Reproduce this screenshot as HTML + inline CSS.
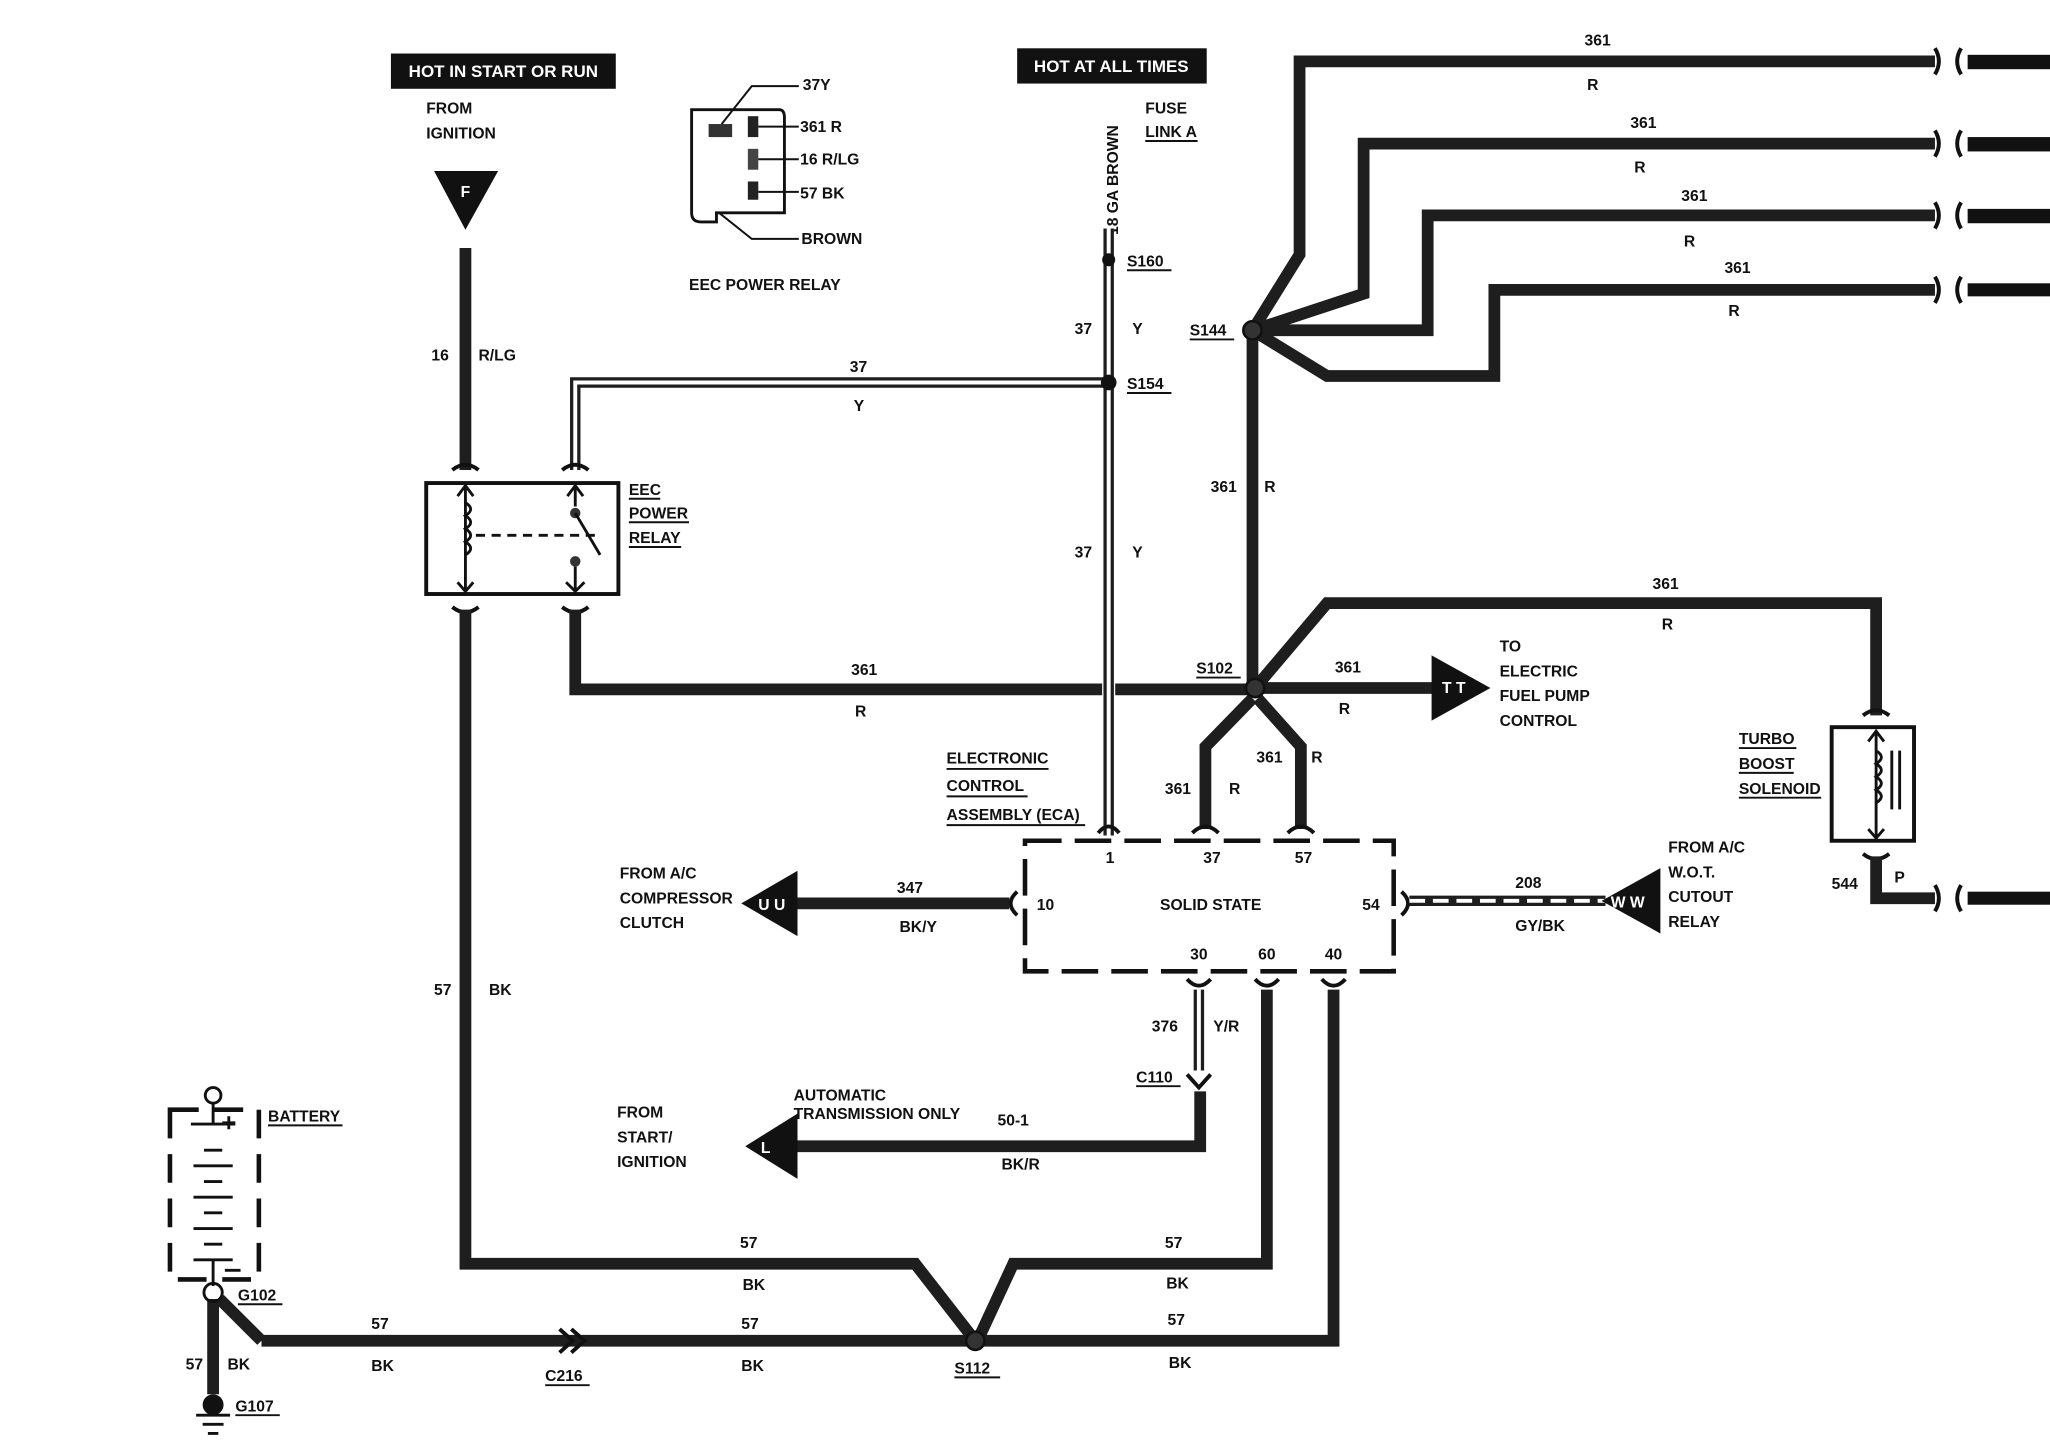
<!DOCTYPE html>
<html><head><meta charset="utf-8"><style>
html,body{margin:0;padding:0;background:#fff;}
svg{display:block;}
text{font-family:"Liberation Sans",sans-serif;font-weight:bold;font-size:12px;fill:#111;}
.w{fill:none;stroke:#1e1e1e;stroke-width:9;stroke-linejoin:miter;}
.wi{fill:none;stroke:#6a6a6a;stroke-width:3;stroke-dasharray:2 3;}
.d{fill:none;stroke:#1e1e1e;stroke-width:8;}
.di{fill:none;stroke:#fff;stroke-width:3;}
.t{fill:none;stroke:#111;stroke-width:2.2;}
.c{fill:none;stroke:#111;stroke-width:3;}
.u{stroke:#111;stroke-width:1.5;}
</style></head><body>
<svg width="2050" height="1440" viewBox="0 0 1568 1103" preserveAspectRatio="none" xmlns="http://www.w3.org/2000/svg">
<rect width="1568" height="1103" fill="#fff"/>
<!-- top labels -->
<rect x="299" y="41" width="172" height="27" fill="#111"/>
<text x="385" y="59" text-anchor="middle" style="fill:#fff;font-size:13px">HOT IN START OR RUN</text>
<rect x="778" y="37" width="145" height="27" fill="#111"/>
<text x="850" y="55" text-anchor="middle" style="fill:#fff;font-size:13px">HOT AT ALL TIMES</text>
<text x="326" y="87">FROM</text><text x="326" y="106">IGNITION</text>
<polygon points="332,131 381,131 356,176" fill="#111"/>
<text x="356" y="151" text-anchor="middle" style="fill:#fff">F</text>
<text x="876" y="87">FUSE</text><text x="876" y="105">LINK A</text>
<line x1="876" y1="108" x2="916" y2="108" class="u"/>
<text transform="translate(855,180) rotate(-90)">18 GA  BROWN</text>

<!-- relay connector icon -->
<path d="M529,84 H596 Q600,84 600,90 V163 H548 V170 H536 Q529,170 529,163 Z" class="t"/>
<rect x="542" y="95" width="18" height="10" fill="#333"/>
<rect x="572" y="89" width="8" height="16" fill="#222"/>
<rect x="572" y="114" width="8" height="16" fill="#444"/>
<rect x="572" y="139" width="8" height="14" fill="#222"/>
<path d="M552,95 L575,66 H611" class="t" style="stroke-width:1.5"/>
<line x1="580" y1="97" x2="611" y2="97" class="u"/>
<line x1="580" y1="122" x2="611" y2="122" class="u"/>
<line x1="580" y1="147" x2="611" y2="147" class="u"/>
<path d="M550,163 L575,183 H611" class="t" style="stroke-width:1.5"/>
<text x="614" y="69">37Y</text><text x="612" y="101">361 R</text><text x="612" y="126">16 R/LG</text><text x="612" y="152">57 BK</text><text x="613" y="187">BROWN</text>
<text x="527" y="222">EEC POWER RELAY</text>

<!-- double wires 37 Y -->
<path d="M848,175 V640 M440,360 V293 H848" class="d"/>
<path d="M848,175 V640 M440,360 V293 H848" class="di"/>
<circle cx="848" cy="199" r="5" fill="#111"/><circle cx="848" cy="293" r="6" fill="#111"/>
<text x="862" y="204">S160</text><line x1="862" y1="207" x2="896" y2="207" class="u"/>
<text x="862" y="298">S154</text><line x1="862" y1="301" x2="896" y2="301" class="u"/>
<text x="822" y="256">37</text><text x="866" y="256">Y</text>
<text x="822" y="427">37</text><text x="866" y="427">Y</text>
<text x="650" y="285">37</text><text x="653" y="315">Y</text>

<!-- 16 R/LG -->
<path d="M356,190 V360" class="w"/>
<text x="330" y="276">16</text><text x="366" y="276">R/LG</text>

<!-- EEC power relay -->
<rect x="326" y="370" width="147" height="85" class="c"/>
<path d="M346,360 Q356,352 366,360 M430,360 Q440,352 450,360" class="c"/>
<path d="M346,465 Q356,473 366,465 M430,465 Q440,473 450,465" class="c"/>
<path d="M356,372 V453 M350,380 L356,372 L362,380 M350,446 L356,453 L362,446" class="t"/>
<path d="M356,385 q8,5 0,10 q8,5 0,10 q8,5 0,10 q8,5 0,10" class="t"/>
<line x1="364" y1="410" x2="455" y2="410" class="t" stroke-dasharray="7 5"/>
<path d="M440,372 V388 M434,380 L440,372 L446,380" class="t"/>
<circle cx="440" cy="393" r="4" fill="#333"/>
<line x1="440" y1="393" x2="459" y2="425" class="t"/>
<circle cx="440" cy="430" r="4" fill="#333"/>
<path d="M440,434 V453 M433,446 L440,453 L447,446" class="t"/>
<text x="481" y="379">EEC</text><text x="481" y="397">POWER</text><text x="481" y="416">RELAY</text>
<line x1="481" y1="382" x2="505" y2="382" class="u"/><line x1="481" y1="400" x2="527" y2="400" class="u"/><line x1="481" y1="419" x2="521" y2="419" class="u"/>

<!-- 361 from relay to S102 -->
<path d="M440,467 V528 H843 M853,528 H958" class="w"/>
<text x="651" y="517">361</text><text x="654" y="549">R</text>

<!-- S144 fan -->
<path d="M958,253 V525" class="w"/>
<path d="M958,253 L994,195 V47 H1480" class="w"/>
<path d="M958,253 L1043,225 V110 H1480" class="w"/>
<path d="M958,253 H1092 V165 H1480" class="w"/>
<path d="M958,253 L1015,288 H1143 V222 H1480" class="w"/>
<circle cx="958" cy="253" r="7" fill="#333" stroke="#111" stroke-width="2"/>
<text x="910" y="257">S144</text><line x1="910" y1="260" x2="944" y2="260" class="u"/>
<text x="1212" y="35">361</text><text x="1214" y="69">R</text>
<text x="1247" y="98">361</text><text x="1250" y="132">R</text>
<text x="1286" y="154">361</text><text x="1288" y="189">R</text>
<text x="1319" y="209">361</text><text x="1322" y="242">R</text>
<text x="926" y="377">361</text><text x="967" y="377">R</text>
<g class="c">
<path d="M1480,37 q6,10 0,20 M1500,37 q-6,10 0,20"/>
<path d="M1480,100 q6,10 0,20 M1500,100 q-6,10 0,20"/>
<path d="M1480,155 q6,10 0,20 M1500,155 q-6,10 0,20"/>
<path d="M1480,212 q6,10 0,20 M1500,212 q-6,10 0,20"/>
<path d="M1480,678 q6,10 0,20 M1500,678 q-6,10 0,20"/>
</g>
<g fill="#111"><rect x="1505" y="42" width="63" height="11"/><rect x="1505" y="105" width="63" height="11"/><rect x="1505" y="160" width="63" height="11"/><rect x="1505" y="217" width="63" height="10"/><rect x="1505" y="683" width="63" height="10"/></g>

<!-- S102 -->
<path d="M960,527 H1100" class="w"/>
<polygon points="1095,502 1140,527 1095,552" fill="#111"/>
<text x="1103" y="531" style="fill:#fff">T T</text>
<text x="1021" y="515">361</text><text x="1024" y="547">R</text>
<text x="1147" y="499">TO</text><text x="1147" y="518">ELECTRIC</text><text x="1147" y="537">FUEL PUMP</text><text x="1147" y="556">CONTROL</text>
<path d="M960,527 L1015,462 H1435 V548" class="w"/>
<text x="1264" y="451">361</text><text x="1271" y="482">R</text>
<path d="M958,535 L922,572 V635 M962,535 L995,572 V635" class="w"/>
<circle cx="960" cy="527" r="7" fill="#333" stroke="#111" stroke-width="2"/>
<text x="915" y="516">S102</text><line x1="915" y1="519" x2="949" y2="519" class="u"/>
<text x="891" y="608">361</text><text x="940" y="608">R</text>
<text x="961" y="584">361</text><text x="1003" y="584">R</text>

<!-- turbo boost -->
<rect x="1401" y="557" width="63" height="87" class="c"/>
<path d="M1425,548 Q1435,540 1445,548 M1425,654 Q1435,662 1445,654" class="c"/>
<path d="M1435,560 V642 M1429,568 L1435,560 L1441,568 M1429,635 L1435,642 L1441,635" class="t"/>
<path d="M1435,575 q8,5 0,10 q8,5 0,10 q8,5 0,10 q8,5 0,10" class="t"/>
<path d="M1447,575 V620 M1453,575 V620" class="t"/>
<text x="1330" y="570">TURBO</text><text x="1330" y="589">BOOST</text><text x="1330" y="608">SOLENOID</text>
<line x1="1330" y1="573" x2="1374" y2="573" class="u"/><line x1="1330" y1="592" x2="1372" y2="592" class="u"/><line x1="1330" y1="611" x2="1393" y2="611" class="u"/>
<path d="M1435,656 V688 H1480" class="w"/>
<text x="1401" y="681">544</text><text x="1449" y="676">P</text>

<!-- ECA -->
<rect x="784" y="644" width="282" height="100" fill="none" stroke="#111" stroke-width="3.5" stroke-dasharray="28 10"/>
<text x="724" y="585">ELECTRONIC</text><text x="724" y="606">CONTROL</text><text x="724" y="628">ASSEMBLY (ECA)</text>
<line x1="724" y1="589" x2="802" y2="589" class="u"/><line x1="724" y1="610" x2="786" y2="610" class="u"/><line x1="724" y1="632" x2="830" y2="632" class="u"/>
<path d="M840,638 Q848,628 856,638 M912,638 Q922,628 932,638 M985,638 Q995,628 1005,638" class="c"/>
<text x="849" y="661" text-anchor="middle">1</text><text x="927" y="661" text-anchor="middle">37</text><text x="997" y="661" text-anchor="middle">57</text>
<text x="926" y="697" text-anchor="middle">SOLID STATE</text>
<text x="793" y="697">10</text><text x="1042" y="697">54</text>
<text x="917" y="735" text-anchor="middle">30</text><text x="969" y="735" text-anchor="middle">60</text><text x="1020" y="735" text-anchor="middle">40</text>
<path d="M778,683 Q768,692 778,701 M1072,683 Q1082,692 1072,701" class="c"/>
<path d="M908,750 Q917,760 926,750 M960,750 Q969,760 978,750 M1011,750 Q1020,760 1029,750" class="c"/>

<!-- 347 -->
<path d="M608,692 H772" class="w"/>
<polygon points="567,692 610,667 610,717" fill="#111"/>
<text x="580" y="697" style="fill:#fff">U U</text>
<text x="686" y="684">347</text><text x="688" y="714">BK/Y</text>
<text x="474" y="673">FROM A/C</text><text x="474" y="692">COMPRESSOR</text><text x="474" y="711">CLUTCH</text>
<!-- 208 -->
<path d="M1078,690 H1228" class="d"/><path d="M1078,690 H1228" class="di" stroke-dasharray="12 6"/>
<polygon points="1225,690 1270,665 1270,715" fill="#111"/>
<text x="1232" y="695" style="fill:#fff">W W</text>
<text x="1159" y="680">208</text><text x="1159" y="713">GY/BK</text>
<text x="1276" y="653">FROM A/C</text><text x="1276" y="672">W.O.T.</text><text x="1276" y="691">CUTOUT</text><text x="1276" y="710">RELAY</text>

<!-- 376 / 50-1 -->
<path d="M917,758 V820" class="d"/><path d="M917,758 V820" class="di"/>
<path d="M908,823 L917,833 L926,823" class="c"/>
<text x="881" y="790">376</text><text x="928" y="790">Y/R</text>
<text x="869" y="829">C110</text><line x1="869" y1="832" x2="903" y2="832" class="u"/>
<path d="M918,836 V878 H608" class="w"/>
<polygon points="570,878 610,853 610,903" fill="#111"/>
<text x="582" y="883" style="fill:#fff">L</text>
<text x="607" y="843">AUTOMATIC</text><text x="607" y="857">TRANSMISSION ONLY</text>
<text x="763" y="862">50-1</text><text x="766" y="896">BK/R</text>
<text x="472" y="856">FROM</text><text x="472" y="875">START/</text><text x="472" y="894">IGNITION</text>

<!-- grounds -->
<path d="M356,467 V968 H700 L742,1022" class="w"/>
<text x="332" y="762">57</text><text x="374" y="762">BK</text>
<path d="M969,758 V968 H775 L750,1022" class="w"/>
<path d="M1020,758 V1027 H752" class="w"/>
<path d="M200,1027 H742 M168,995 L200,1027 M163,995 V1068" class="w"/>
<path d="M428,1018 L438,1027 L428,1036 M437,1018 L447,1027 L437,1036" class="c" fill="none"/>
<circle cx="746" cy="1027" r="7" fill="#333" stroke="#111" stroke-width="2"/>
<text x="566" y="956">57</text><text x="568" y="988">BK</text>
<text x="891" y="956">57</text><text x="892" y="987">BK</text>
<text x="893" y="1015">57</text><text x="894" y="1048">BK</text>
<text x="567" y="1018">57</text><text x="567" y="1050">BK</text>
<text x="284" y="1018">57</text><text x="284" y="1050">BK</text>
<text x="142" y="1049">57</text><text x="174" y="1049">BK</text>
<text x="730" y="1052">S112</text><line x1="730" y1="1055" x2="765" y2="1055" class="u"/>
<text x="417" y="1058">C216</text><line x1="417" y1="1061" x2="451" y2="1061" class="u"/>

<!-- battery -->
<rect x="130" y="850" width="68" height="130" fill="none" stroke="#111" stroke-width="3.5" stroke-dasharray="22 12"/>
<circle cx="163" cy="839" r="6" class="t" fill="#fff"/>
<path d="M163,845 V860 M146,861 H180 M170,860 h10 M175,855 v10" class="t"/>
<g class="t"><path d="M156,881 H170 M148,893 H178 M156,905 H170 M148,917 H178 M156,929 H170 M148,941 H178 M156,953 H170 M148,965 H178"/></g>
<path d="M163,965 V985 M172,973 H184" class="t"/>
<text x="205" y="859">BATTERY</text><line x1="205" y1="862" x2="262" y2="862" class="u"/>
<circle cx="163" cy="990" r="7" fill="#fff" class="t"/>
<text x="182" y="996">G102</text><line x1="182" y1="999" x2="216" y2="999" class="u"/>
<circle cx="163" cy="1076" r="8" fill="#111"/>
<path d="M150,1084 H176 M155,1091 H171 M159,1098 H167" class="t"/>
<text x="180" y="1081">G107</text><line x1="180" y1="1084" x2="214" y2="1084" class="u"/>
</svg>
</body></html>
